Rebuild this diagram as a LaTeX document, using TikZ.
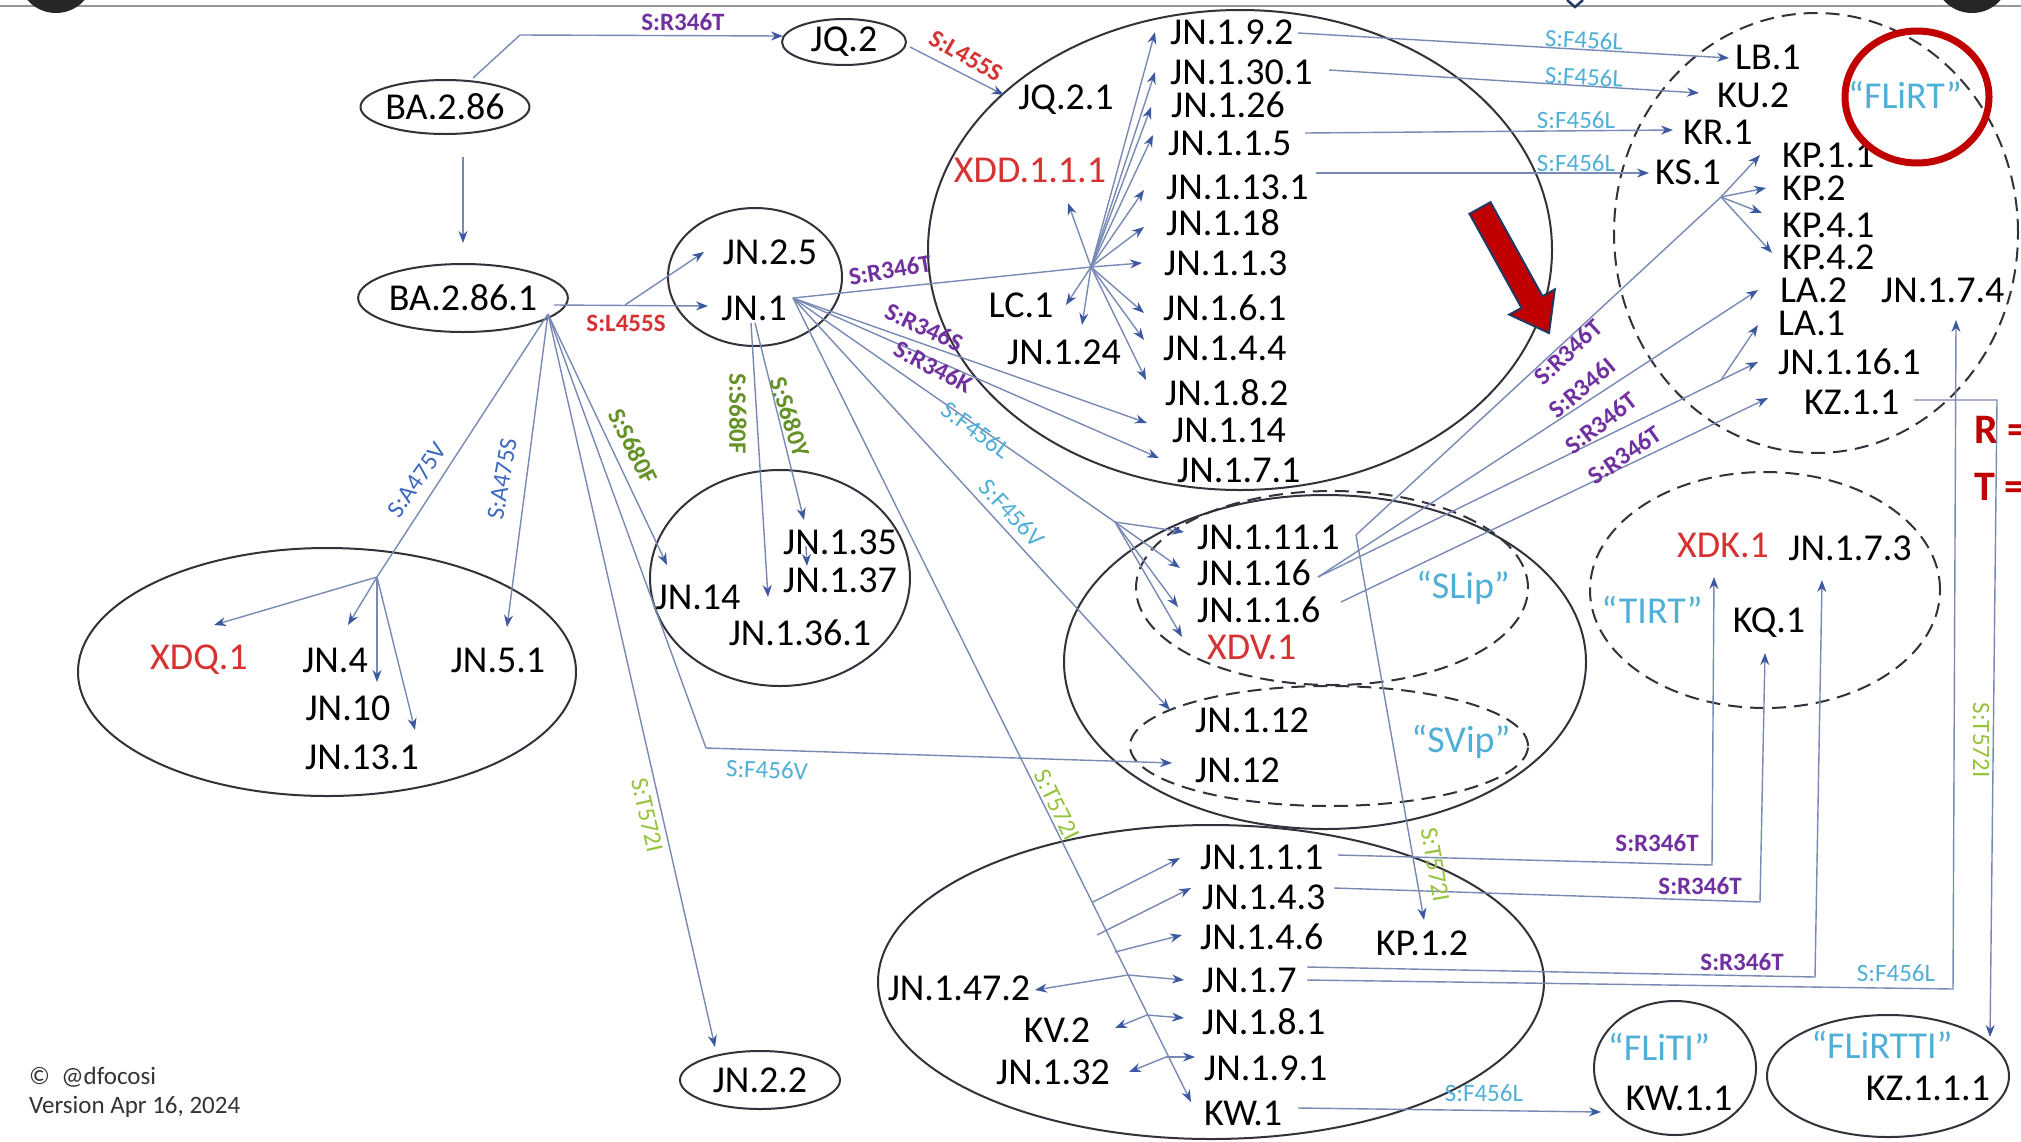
\documentclass[tikz,border=0pt]{standalone}
\usepackage{fontspec}
\setmainfont{Carlito}
\usetikzlibrary{arrows.meta,shapes.geometric}
\definecolor{lnc}{RGB}{120,138,180}
\definecolor{arc}{RGB}{60,88,160}
\definecolor{ellc}{RGB}{50,50,60}
\definecolor{purc}{RGB}{112,48,160}
\definecolor{redc}{RGB}{215,50,50}
\definecolor{lbc}{RGB}{80,175,215}
\definecolor{bluc}{RGB}{60,105,190}
\definecolor{grnc}{RGB}{100,145,40}
\definecolor{ygrc}{RGB}{150,195,60}
\definecolor{dredc}{RGB}{192,0,0}
\definecolor{navyc}{RGB}{31,56,100}
\definecolor{grayc}{RGB}{150,150,150}
\begin{document}
\begin{tikzpicture}[x=1pt,y=-1pt,
  tx/.style={inner sep=0pt,font=\fontsize{38}{40}\selectfont},
  txw/.style={tx,anchor=west},
  txr/.style={tx,text=redc},
  ql/.style={tx,text=lbc},
  mu/.style={inner sep=0pt,font=\fontsize{25}{26}\selectfont},
  mpur/.style={mu,text=purc,font=\fontsize{25}{26}\selectfont\bfseries},
  mred/.style={mu,text=redc,font=\fontsize{25}{26}\selectfont\bfseries},
  mlb/.style={mu,text=lbc},
  mblu/.style={mu,text=bluc},
  mgrn/.style={mu,text=grnc,font=\fontsize{25}{26}\selectfont\bfseries},
  mygr/.style={mu,text=ygrc},
  ln/.style={draw=lnc,line width=1.4pt},
  ar/.style={ln,-{Stealth[length=12pt,width=9pt,color=arc]}},
  grp/.style={draw=ellc,line width=2pt},
  dgrp/.style={grp,dash pattern=on 14pt off 8pt},
  eln/.style={ellipse,draw=ellc,line width=2pt,inner sep=0pt,font=\fontsize{38}{40}\selectfont},
]
\useasboundingbox (0,0) rectangle (2021,1141);
\clip (0,0) rectangle (2021,1141);
\fill[white] (0,0) rectangle (2021,1141);

% frame decorations
\draw[grayc,line width=2pt] (0,6) -- (2021,6);
\fill[black!85] (56,-25) circle [radius=38pt];
\fill[black!85] (1972,-25) circle [radius=38pt];
\draw[navyc,line width=2.5pt] (1567,0) -- (1575,7) -- (1583,0);

% group outlines
\draw[grp] (755,277) ellipse [x radius=87pt, y radius=69pt];
\draw[grp] (1240,250) ellipse [x radius=312pt, y radius=240pt];
\draw[dgrp] (1816,233) ellipse [x radius=202pt, y radius=220pt];
\draw[grp] (1325,662) ellipse [x radius=261pt, y radius=167pt];
\draw[dgrp] (1332,588) ellipse [x radius=196pt, y radius=97pt];
\draw[dgrp] (1329,746) ellipse [x radius=199pt, y radius=60pt];
\draw[dgrp] (1765,590) ellipse [x radius=175pt, y radius=118pt];
\draw[grp] (1211,982) ellipse [x radius=333pt, y radius=157pt];
\draw[grp] (780,578) ellipse [x radius=130pt, y radius=108pt];
\draw[grp] (327,672) ellipse [x radius=249pt, y radius=124pt];
\draw[grp] (1675,1068) ellipse [x radius=81pt, y radius=67pt];
\draw[grp] (1888,1076) ellipse [x radius=121pt, y radius=61pt];

% single nodes
\node[eln,minimum width=160pt,minimum height=54pt] (ba286) at (445,107) {BA.2.86};
\node[eln,minimum width=184pt,minimum height=68pt] (ba2861) at (463,298) {BA.2.86.1};
\node[eln,minimum width=124pt,minimum height=46pt] (jq2) at (844,42) {JQ.2};
\node[eln,minimum width=160pt,minimum height=58pt] (jn22) at (760,1080) {JN.2.2};

% JN.2.5 / JN.1
\node[tx] (jn25) at (770,252) {JN.2.5};
\node[tx] (jn1) at (754,308) {JN.1};

% big circle
\node[txw] (jn192) at (1170,32) {JN.1.9.2};
\node[txw] (jn1301) at (1170,72) {JN.1.30.1};
\node[txw] (jn126) at (1171,105) {JN.1.26};
\node[txw] (jn115) at (1168,143) {JN.1.1.5};
\node[txw] (jn1131) at (1166,187) {JN.1.13.1};
\node[txw] (jn118) at (1166,223) {JN.1.18};
\node[txw] (jn113) at (1164,263) {JN.1.1.3};
\node[txw] (jn161) at (1163,308) {JN.1.6.1};
\node[txw] (jn144) at (1163,348) {JN.1.4.4};
\node[txw] (jn182) at (1165,393) {JN.1.8.2};
\node[txw] (jn114) at (1172,430) {JN.1.14};
\node[txw] (jn171) at (1177,470) {JN.1.7.1};
\node[tx] (jq21) at (1066,100) {JQ.2.1};
\node[txr] (xdd) at (1030,170) {XDD.1.1.1};
\node[tx] (lc1) at (1021,305) {LC.1};
\node[tx] (jn124) at (1064,352) {JN.1.24};

% FLiRT group
\node[txw] (lb1) at (1735,57) {LB.1};
\node[txw] (ku2) at (1717,95) {KU.2};
\node[txw] (kr1) at (1683,132) {KR.1};
\node[txw] (ks1) at (1655,172) {KS.1};
\node[txw] (kp11) at (1782,155) {KP.1.1};
\node[txw] (kp2) at (1782,188) {KP.2};
\node[txw] (kp41) at (1782,225) {KP.4.1};
\node[txw] (kp42) at (1782,257) {KP.4.2};
\node[txw] (la2) at (1780,290) {LA.2};
\node[txw] (jn174) at (1881,290) {JN.1.7.4};
\node[txw] (la1) at (1778,323) {LA.1};
\node[txw] (jn1161) at (1778,362) {JN.1.16.1};
\node[txw] (kz11) at (1804,402) {KZ.1.1};
\node[ql] (qflirt) at (1905,95) {“FLiRT”};

% SLip / SVip
\node[txw] (jn1111) at (1197,537) {JN.1.11.1};
\node[txw] (jn116) at (1197,573) {JN.1.16};
\node[txw] (jn1x16) at (1197,610) {JN.1.1.6};
\node[txw,text=redc] (xdv1) at (1207,647) {XDV.1};
\node[ql] (qslip) at (1463,588) {“SLip”};
\node[txw] (jn1x12) at (1195,720) {JN.1.12};
\node[txw] (jn12) at (1195,770) {JN.12};
\node[ql] (qsvip) at (1461,742) {“SVip”};

% TIRT
\node[txr] (xdk1) at (1723,545) {XDK.1};
\node[tx] (jn173) at (1850,548) {JN.1.7.3};
\node[tx] (kq1) at (1769,623) {KQ.1};
\node[ql] (qtirt) at (1652,610) {“TIRT”};

% bottom group
\node[txw] (jn1x11) at (1200,857) {JN.1.1.1};
\node[txw] (jn143) at (1202,897) {JN.1.4.3};
\node[txw] (jn146) at (1200,937) {JN.1.4.6};
\node[txw] (jn17) at (1202,980) {JN.1.7};
\node[txw] (jn181) at (1202,1022) {JN.1.8.1};
\node[txw] (jn191) at (1204,1068) {JN.1.9.1};
\node[txw] (kw1) at (1204,1113) {KW.1};
\node[tx] (jn1472) at (959,988) {JN.1.47.2};
\node[tx] (kv2) at (1057,1030) {KV.2};
\node[tx] (jn132) at (1053,1072) {JN.1.32};
\node[tx] (kp12) at (1422,943) {KP.1.2};

% XDQ group
\node[txr] (xdq1) at (199,660) {XDQ.1};
\node[tx] (jn4) at (335,660) {JN.4};
\node[tx] (jn51) at (498,660) {JN.5.1};
\node[tx] (jn10) at (348,708) {JN.10};
\node[tx] (jn131) at (362,757) {JN.13.1};

% JN.14 group
\node[tx] (jn135) at (840,542) {JN.1.35};
\node[tx] (jn137) at (840,580) {JN.1.37};
\node[tx] (jn14) at (698,597) {JN.14};
\node[tx] (jn1361) at (800,633) {JN.1.36.1};

% FLiTI / FLiRTTI
\node[ql] (qfliti) at (1659,1047) {“FLiTI”};
\node[tx] (kw11) at (1679,1098) {KW.1.1};
\node[ql] (qflirtti) at (1882,1045) {“FLiRTTI”};
\node[tx] (kz111) at (1928,1088) {KZ.1.1.1};

% credits
\node[anchor=west,inner sep=0pt,font=\fontsize{25}{26}\selectfont,text=black!80] (cpr) at (29,1077) {© \ @dfocosi};
\node[anchor=west,inner sep=0pt,font=\fontsize{25}{26}\selectfont,text=black!80] (ver) at (29,1107) {Version Apr 16, 2024};
\node[anchor=west,inner sep=0pt,font=\fontsize{42}{44}\selectfont\bfseries,text=dredc] (rk) at (1974,430) {R =};
\node[anchor=west,inner sep=0pt,font=\fontsize{42}{44}\selectfont\bfseries,text=dredc] (tk) at (1974,487) {T =};

% ---------- coordinates ----------
\coordinate (a1) at (473,78);  \coordinate (a2) at (520,35);  \coordinate (a3) at (783,36);
\coordinate (a4) at (463,157); \coordinate (a5) at (463,243);
\coordinate (a6) at (910,47);  \coordinate (a7) at (1004,95);
\coordinate (b1) at (554,305); \coordinate (b2) at (708,306);
\coordinate (b3) at (625,305); \coordinate (b4) at (704,252);
\coordinate (bo) at (548,314); \coordinate (bq) at (377,577);
\coordinate (txdq) at (214,625); \coordinate (tjn4) at (348,625);
\coordinate (tjn10) at (377,682); \coordinate (tjn131) at (415,730);
\coordinate (tjn51) at (507,627); \coordinate (tjn14) at (667,565);
\coordinate (bc) at (706,748);   \coordinate (tjn12) at (1172,763);
\coordinate (tjn22) at (715,1047);
\coordinate (jo) at (793,298); \coordinate (hub) at (1091,267);
\coordinate (h1) at (1155,32); \coordinate (h2) at (1155,72); \coordinate (h3) at (1151,107);
\coordinate (h4) at (1153,135); \coordinate (h5) at (1144,190); \coordinate (h6) at (1144,227);
\coordinate (h7) at (1142,263); \coordinate (h8) at (1144,313); \coordinate (h9) at (1144,340);
\coordinate (h10) at (1146,380); \coordinate (h11) at (1068,203); \coordinate (h12) at (1066,305);
\coordinate (h13) at (1082,325);
\coordinate (tjn114) at (1147,423); \coordinate (tjn171) at (1159,458);
\coordinate (fb) at (1115,522);
\coordinate (f1) at (1184,532); \coordinate (f2) at (1180,568); \coordinate (f3) at (1178,607); \coordinate (f4) at (1182,637);
\coordinate (tjn1x12) at (1170,710); \coordinate (tkw1) at (1191,1102);
\coordinate (s1) at (751,323); \coordinate (tjn1361) at (768,597);
\coordinate (s2) at (755,323); \coordinate (tjn135) at (804,520);
\coordinate (s3) at (806,546); \coordinate (tjn137) at (807,566);
\coordinate (k1) at (1093,902); \coordinate (k1t) at (1180,858);
\coordinate (k2) at (1097,935); \coordinate (k2t) at (1191,888);
\coordinate (k3) at (1115,952); \coordinate (k3t) at (1182,935);
\coordinate (k4) at (1128,975); \coordinate (k4a) at (1035,990); \coordinate (k4b) at (1184,980);
\coordinate (k5) at (1147,1015); \coordinate (k5a) at (1115,1028); \coordinate (k5b) at (1184,1018);
\coordinate (k6) at (1166,1057); \coordinate (k6a) at (1129,1072); \coordinate (k6b) at (1195,1057);
\coordinate (r1) at (1338,855); \coordinate (r2) at (1712,865); \coordinate (r3) at (1714,577);
\coordinate (r4) at (1334,888); \coordinate (r5) at (1760,902); \coordinate (r6) at (1765,653);
\coordinate (r7) at (1307,967); \coordinate (r8) at (1815,977); \coordinate (r9) at (1822,580);
\coordinate (r10) at (1307,980); \coordinate (r11) at (1953,989); \coordinate (r12) at (1956,320);
\coordinate (r13) at (1298,1108); \coordinate (r14) at (1601,1112);
\coordinate (r15) at (1914,400); \coordinate (r16) at (1997,400); \coordinate (r17) at (1990,1037);
\coordinate (m1) at (1356,535); \coordinate (m2) at (1721,197);
\coordinate (m2a) at (1760,155); \coordinate (m2b) at (1766,188); \coordinate (m2c) at (1762,213); \coordinate (m2d) at (1772,253);
\coordinate (tkp12) at (1424,920);
\coordinate (m3) at (1318,577); \coordinate (tla2) at (1758,290);
\coordinate (m4) at (1721,380); \coordinate (tla1) at (1758,325); \coordinate (tjn1161) at (1758,362);
\coordinate (m5) at (1341,602); \coordinate (tkz11) at (1768,398);
\coordinate (u1) at (1298,33); \coordinate (u1t) at (1729,58);
\coordinate (u2) at (1329,70); \coordinate (u2t) at (1699,93);
\coordinate (u3) at (1305,133); \coordinate (u3t) at (1673,130);
\coordinate (u4) at (1316,173); \coordinate (u4t) at (1649,173);

% ---------- connectors ----------
\draw[ar] (a1) -- (a2) -- (a3);
\draw[ar] (a4) -- (a5);
\draw[ar] (a6) -- (a7);
\draw[ar] (b1) -- (b2);
\draw[ar] (b3) -- (b4);
\draw[ln] (bo) -- (bq);
\foreach \t in {txdq,tjn4,tjn10,tjn131} \draw[ar] (bq) -- (\t);
\draw[ar] (bo) -- (tjn51);
\draw[ar] (bo) -- (tjn14);
\draw[ar] (bo) -- (bc) -- (tjn12);
\draw[ar] (bo) -- (tjn22);
\draw[ln] (jo) -- (hub);
\foreach \t in {h1,h2,h3,h4,h5,h6,h7,h8,h9,h10,h11,h12,h13} \draw[ar] (hub) -- (\t);
\draw[ar] (jo) -- (tjn114);
\draw[ar] (jo) -- (tjn171);
\draw[ln] (jo) -- (fb);
\foreach \t in {f1,f2,f3,f4} \draw[ar] (fb) -- (\t);
\draw[ar] (jo) -- (tjn1x12);
\draw[ar] (jo) -- (tkw1);
\draw[ar] (s1) -- (tjn1361);
\draw[ar] (s2) -- (tjn135);
\draw[ar] (s3) -- (tjn137);
\draw[ar] (k1) -- (k1t);
\draw[ar] (k2) -- (k2t);
\draw[ar] (k3) -- (k3t);
\draw[ar] (k4) -- (k4a); \draw[ar] (k4) -- (k4b);
\draw[ar] (k5) -- (k5a); \draw[ar] (k5) -- (k5b);
\draw[ar] (k6) -- (k6a); \draw[ar] (k6) -- (k6b);
\draw[ar] (r1) -- (r2) -- (r3);
\draw[ar] (r4) -- (r5) -- (r6);
\draw[ar] (r7) -- (r8) -- (r9);
\draw[ar] (r10) -- (r11) -- (r12);
\draw[ar] (r13) -- (r14);
\draw[ar] (r15) -- (r16) -- (r17);
\draw[ln] (m1) -- (m2);
\foreach \t in {m2a,m2b,m2c,m2d} \draw[ar] (m2) -- (\t);
\draw[ar] (m1) -- (tkp12);
\draw[ar] (m3) -- (tla2);
\draw[ln] (m3) -- (m4);
\draw[ar] (m4) -- (tla1); \draw[ar] (m4) -- (tjn1161);
\draw[ar] (m5) -- (tkz11);
\draw[ar] (u1) -- (u1t);
\draw[ar] (u2) -- (u2t);
\draw[ar] (u3) -- (u3t);
\draw[ar] (u4) -- (u4t);

% ---------- mutation labels ----------
\node[mpur] (l1) at (683,22) {S:R346T};
\node[mred,rotate=-30] (l2) at (966,56) {S:L455S};
\node[mred] (l3) at (626,323) {S:L455S};
\node[mpur,rotate=10] (l4) at (890,270) {S:R346T};
\node[mpur,rotate=-25] (l5) at (924,327) {S:R346S};
\node[mpur,rotate=-28] (l6) at (933,367) {S:R346K};
\node[mlb,rotate=-36] (l7) at (976,430) {S:F456L};
\node[mlb,rotate=-47] (l8) at (1012,513) {S:F456V};
\node[mgrn,rotate=-90] (l9) at (738,414) {S:S680F};
\node[mgrn,rotate=-72] (l10) at (790,417) {S:S680Y};
\node[mblu,rotate=55] (l11) at (417,480) {S:A475V};
\node[mblu,rotate=80] (l12) at (502,479) {S:A475S};
\node[mgrn,rotate=-63] (l13) at (633,446) {S:S680F};
\node[mlb,rotate=-2] (l14) at (767,770) {S:F456V};
\node[mygr,rotate=-77] (l15) at (647,815) {S:T572I};
\node[mygr,rotate=-64] (l16) at (1057,805) {S:T572I};
\node[mlb,rotate=-3] (l17) at (1584,40) {S:F456L};
\node[mlb,rotate=-3] (l18) at (1584,77) {S:F456L};
\node[mlb] (l19) at (1576,120) {S:F456L};
\node[mlb] (l20) at (1576,163) {S:F456L};
\node[mpur,rotate=43] (l21) at (1568,352) {S:R346T};
\node[mpur,rotate=40] (l22) at (1582,388) {S:R346I};
\node[mpur,rotate=38] (l23) at (1601,423) {S:R346T};
\node[mpur,rotate=35] (l24) at (1625,455) {S:R346T};
\node[mygr,rotate=-80] (l25) at (1435,865) {S:T572I};
\node[mpur] (l26) at (1657,843) {S:R346T};
\node[mpur] (l27) at (1700,886) {S:R346T};
\node[mpur] (l28) at (1742,962) {S:R346T};
\node[mlb] (l29) at (1896,973) {S:F456L};
\node[mlb] (l30) at (1484,1093) {S:F456L};
\node[mygr,rotate=-90] (l31) at (1981,740) {S:T572I};

% ---------- highlight marks ----------
\draw[dredc,line width=7pt] (1917,97) ellipse [x radius=72pt, y radius=66pt];
\filldraw[fill=dredc,draw=navyc,line width=2pt,line join=miter]
  (1490.5,202.2) -- (1542.5,296.2) -- (1554.8,289.4) -- (1549,333)
  -- (1509.3,314.6) -- (1521.5,307.8) -- (1469.5,213.8) -- cycle;
\end{tikzpicture}
\end{document}
